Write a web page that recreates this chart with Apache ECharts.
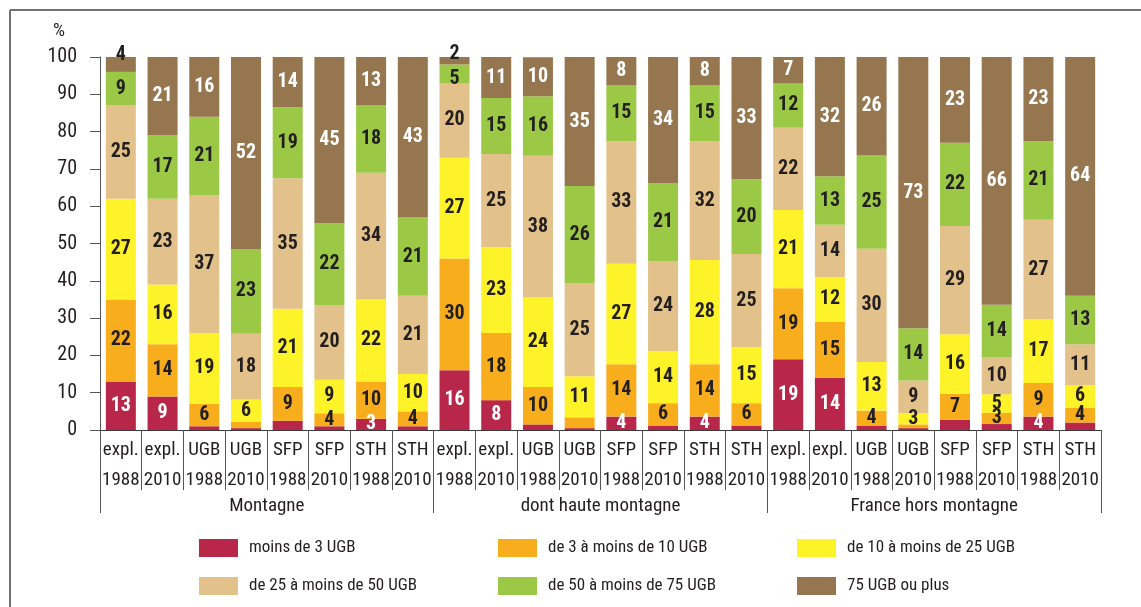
<!DOCTYPE html>
<html><head><meta charset="utf-8">
<script src="https://cdn.jsdelivr.net/npm/echarts@6/dist/echarts.min.js"></script>
<style>html,body{margin:0;padding:0;background:#fff}#c{width:1141px;height:607px}</style>
</head><body><div id="c"></div><script>
// Categories
const measures = ["expl.","expl.","UGB","UGB","SFP","SFP","STH","STH",
                  "expl.","expl.","UGB","UGB","SFP","SFP","STH","STH",
                  "expl.","expl.","UGB","UGB","SFP","SFP","STH","STH"];
const years = ["1988","2010","1988","2010","1988","2010","1988","2010",
               "1988","2010","1988","2010","1988","2010","1988","2010",
               "1988","2010","1988","2010","1988","2010","1988","2010"];
const groups = ["Montagne","dont haute montagne","France hors montagne"];
const seriesNames = ["moins de 3 UGB","de 3 à moins de 10 UGB","de 10 à moins de 25 UGB",
                     "de 25 à moins de 50 UGB","de 50 à moins de 75 UGB","75 UGB ou plus"];
// Series values (%)
const lt3    = [13,9,1,0.5,2.5,1,3,1, 16,8,1.5,0.5,3.6,1.2,3.6,1.2, 19,14,1.2,0.5,2.7,1.6,3.6,2];
const s3to10 = [22,14,6,1.7,9,3.5,10,4, 30,18,10,2.9,14,6,14,6, 19,15,4,1,7,3,9,4];
const s10to25= [27,16,19,6,21,9,22,10, 27,23,24,11,27,14,28,15, 21,12,13,3,16,5,17,6];
const s25to50= [25,23,37,17.6,35,20,34,21, 20,25,38,25,32.8,24,31.8,25, 22,14,30.4,8.8,29,10,26.8,11];
const s50to75= [9,17,21,22.7,19,22,18,21, 5,15,16,26,15,21,15,20, 12,13,25,14,22.3,14,21,13];
const ge75   = [4,21,16,51.5,13.5,44.5,13,43, 2,11,10.4,34.6,7.6,33.8,7.6,32.8, 7,32,26.4,72.7,23,66.4,22.6,64];
const yTicks = [0,100,10];

const values = [lt3,s3to10,s10to25,s25to50,s50to75,ge75];
const colors = ['#b8264a','#f8ad1d','#fef229','#e2c28a','#9cc945','#96764f'];
const FONT = '"Roboto Condensed","Open Sans",sans-serif';
const DARK = '#231f20';
const cats = measures.map((m,i)=>m+'\n'+years[i]);

const special = {
  '5_0': {color: DARK, offset:[0,-9]},
  '5_8': {color: DARK, offset:[0,-7]},
  '4_8': {offset:[0,5]}
};

const series = values.map((arr,si)=>({
  name: seriesNames[si], type:'bar', stack:'total', barWidth:30, xAxisIndex:0,
  itemStyle:{color:colors[si]},
  emphasis:{disabled:true},
  label:{show:true, position:'inside', fontFamily:FONT, fontWeight:'bold', fontSize:20,
    color:(si===0||si===5)?'#ffffff':DARK,
    formatter:p=>{const v=typeof p.value==='object'?p.value.value:p.value; return (v>=3||si===5)?String(Math.round(v)):'';}},
  data: arr.map((v,di)=>{const k=si+'_'+di; return special[k]?{value:v,label:special[k]}:v;})
}));

const chart = echarts.init(document.getElementById('c'));
const legendBase = {orient:'vertical', top:534, itemWidth:39, itemHeight:18, itemGap:20, icon:'rect',
  selectedMode:false, textStyle:{fontFamily:FONT, fontSize:17, color:DARK, padding:[0,0,0,6]}};
chart.setOption({
  animation:false,
  backgroundColor:'#ffffff',
  grid:{left:100, right:40, top:57, bottom:177, containLabel:false},
  legend:[
    Object.assign({}, legendBase, {left:194, data:[seriesNames[0],seriesNames[3]]}),
    Object.assign({}, legendBase, {left:493, data:[seriesNames[1],seriesNames[4]]}),
    Object.assign({}, legendBase, {left:792, data:[seriesNames[2],seriesNames[5]]})
  ],
  xAxis:[
    {type:'category', data:cats, position:'bottom',
     axisLine:{show:true, lineStyle:{color:'#3a3a3a', width:1}},
     axisTick:{show:true, interval:0, length:60, lineStyle:{color:'#555', width:1}},
     axisLabel:{interval:0, margin:5, lineHeight:30, fontSize:19, fontFamily:FONT, color:DARK}},
    {type:'category', data:groups, position:'bottom',
     axisLine:{show:false},
     axisTick:{show:true, interval:0, length:83, lineStyle:{color:'#555', width:1}},
     axisLabel:{interval:0, margin:67, fontSize:19, fontFamily:FONT, color:DARK}}
  ],
  yAxis:{type:'value', min:yTicks[0], max:yTicks[1], interval:yTicks[2],
    axisLine:{show:true, lineStyle:{color:'#555', width:1}},
    axisTick:{show:true, length:10, lineStyle:{color:'#555'}},
    axisLabel:{margin:23, fontSize:20, fontFamily:FONT, color:DARK},
    splitLine:{show:false}},
  graphic:[
    {type:'line', shape:{x1:10,y1:10,x2:1141,y2:10}, style:{stroke:'#707070', lineWidth:2}},
    {type:'line', shape:{x1:10,y1:10,x2:10,y2:607}, style:{stroke:'#707070', lineWidth:2}},
    {type:'text', left:53, top:22, style:{text:'%', font:'19px '+FONT, fill:DARK}}
  ],
  series: series
});
</script></body></html>
